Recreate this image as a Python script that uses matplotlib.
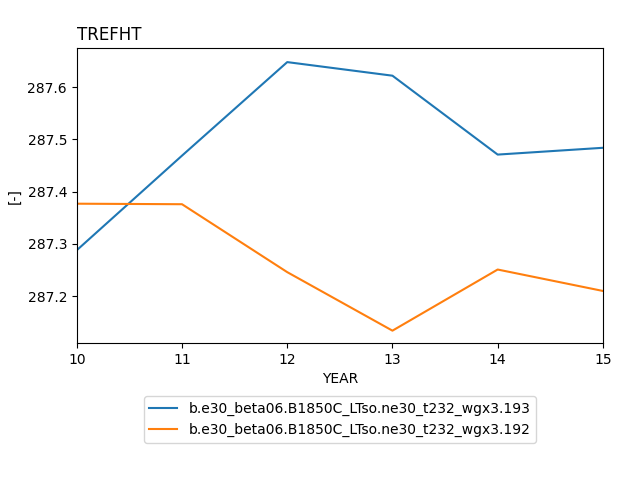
import matplotlib
matplotlib.use("Agg")
import matplotlib.pyplot as plt

# Annual mean TREFHT for two cases
years = [10, 11, 12, 13, 14, 15]
case_193 = [287.288, 287.469, 287.648, 287.622, 287.471, 287.484]
case_192 = [287.377, 287.376, 287.246, 287.134, 287.251, 287.210]
labels = ["b.e30_beta06.B1850C_LTso.ne30_t232_wgx3.193",
          "b.e30_beta06.B1850C_LTso.ne30_t232_wgx3.192"]

fig = plt.figure(figsize=(6.4, 4.8), dpi=100)
ax = fig.add_axes([0.120, 0.285, 0.822, 0.615])
ax.plot(years, case_193, label=labels[0])
ax.plot(years, case_192, label=labels[1])
ax.set_xlim(10, 15)
ax.set_ylim(287.110, 287.675)
ax.set_title("TREFHT", loc="left")
ax.set_xlabel("YEAR")
ax.set_ylabel("[-]")
ax.legend(loc="upper center", bbox_to_anchor=(0.5, -0.157))
fig.savefig("out.png", dpi=100)
